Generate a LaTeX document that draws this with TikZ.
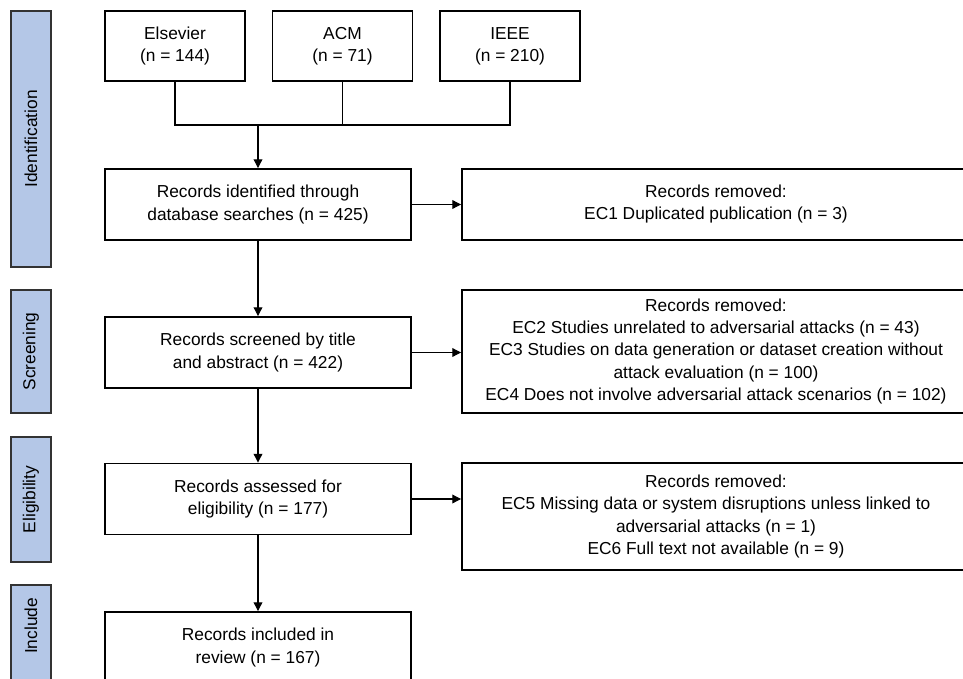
\documentclass[tikz,border=0pt]{standalone}
\usepackage{fontspec}
\setmainfont{Liberation Sans}
\usetikzlibrary{arrows.meta}

\begin{document}
\begin{tikzpicture}
[x=0.03cm, y=-0.03cm,
every node/.style={font=\fontsize{14.8}{18.8}\selectfont},
recordnode/.style={rectangle, draw=black, line width=1.6pt, align=center, inner sep=0pt},
phasenode/.style={rectangle, draw=black!80, line width=1.2pt, fill={rgb,255:red,180;green,199;blue,231}, minimum height=1.2cm, rotate=90},
phaselabel/.style={rotate=90, inner sep=0pt},
link/.style={line width=0.9pt},
connect/.style={-{Triangle[length=7.5pt,width=7.5pt]}, line width=0.9pt}]
\useasboundingbox (0,0) rectangle (963,678);
\clip (0,0) rectangle (963,678);

% phases
\node[phasenode, minimum width=7.68cm]	(idbar) at (31, 139) {Identification};
\node[phasenode, minimum width=3.69cm]	(scrbar) at (31, 351.5) {Screening};
\node[phasenode, minimum width=3.75cm]	(eligbar) at (31, 499.5) {Eligibility};
\node[phasenode, minimum width=3.72cm]	(inclbar) at (31, 647) {};
\node[phaselabel]	(incltext) at (31, 626) {Include};

% databases
\node[recordnode, minimum width=4.2cm, minimum height=2.1cm]	(elsevier) at (175, 46) {Elsevier\\(n = 144)};
\node[recordnode, minimum width=4.2cm, minimum height=2.1cm]	(acm) at (342.5, 46) {ACM\\(n = 71)};
\node[recordnode, minimum width=4.2cm, minimum height=2.1cm]	(ieee) at (510, 46) {IEEE\\(n = 210)};
\coordinate	(merge) at (258, 125);

% main flow
\node[recordnode, minimum width=9.18cm, minimum height=2.13cm]	(identified) at (258, 204.5) {Records identified through\\database searches (n = 425)};
\node[recordnode, minimum width=9.18cm, minimum height=2.13cm]	(screened) at (258, 352.5) {Records screened by title\\and abstract (n = 422)};
\node[recordnode, minimum width=9.18cm, minimum height=2.13cm]	(assessed) at (258, 499) {Records assessed for\\eligibility (n = 177)};
\node[recordnode, minimum width=9.18cm, minimum height=2.13cm]	(included) at (258, 647.5) {Records included in\\review (n = 167)};

% removed records
\node[recordnode, minimum width=15.24cm, minimum height=2.13cm]	(removed1) at (716, 204.5) {Records removed:\\EC1 Duplicated publication (n = 3)};
\node[recordnode, minimum width=15.24cm, minimum height=3.69cm]	(removed2) at (716, 351.5) {Records removed:\\EC2 Studies unrelated to adversarial attacks (n = 43)\\EC3 Studies on data generation or dataset creation without\\attack evaluation (n = 100)\\EC4 Does not involve adversarial attack scenarios (n = 102)};
\node[recordnode, minimum width=15.24cm, minimum height=3.21cm]	(removed3) at (716, 516.5) {Records removed:\\EC5 Missing data or system disruptions unless linked to\\adversarial attacks (n = 1)\\EC6 Full text not available (n = 9)};

\draw[link] (elsevier.south) |- (ieee.south |- merge) -- (ieee.south);
\draw[link] (acm.south) -- (acm.south |- merge);
\draw[connect] (merge) -- (identified.north);
\draw[connect] (identified) -- (screened);
\draw[connect] (screened) -- (assessed);
\draw[connect] (assessed) -- (included);
\draw[connect] (identified.east) -- (removed1.west);
\draw[connect] (screened.east) -- (removed2.west |- screened.east);
\draw[connect] (assessed.east) -- (removed3.west |- assessed.east);

\end{tikzpicture}
\end{document}
